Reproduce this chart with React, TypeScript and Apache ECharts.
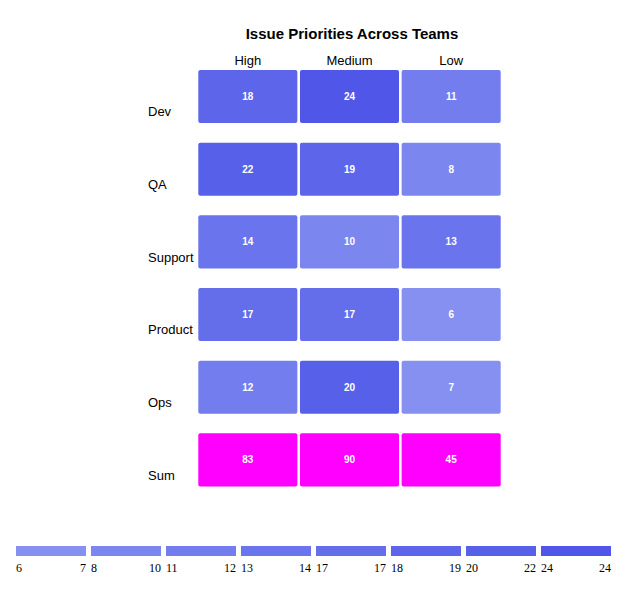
import React, { useEffect, useRef } from "react";
import * as echarts from "echarts";

const teams = ["Dev", "QA", "Support", "Product", "Ops", "Sum"];
const priorities = ["High", "Medium", "Low"];
const highValues = [18, 22, 14, 17, 12];
const mediumValues = [24, 19, 10, 17, 20];
const lowValues = [11, 8, 13, 6, 7];
const sumValues = [83, 90, 45];

const pieceMin = [6, 8, 11, 13, 17, 18, 20, 24];
const pieceMax = [7, 10, 12, 14, 17, 19, 22, 24];
const pieceColors = [
  "#8690f0",
  "#7c86ef",
  "#737dee",
  "#6a74ec",
  "#646eeb",
  "#5d66ea",
  "#5760e9",
  "#5057e8",
];
const sumColor = "#ff00ff";

const FONT = "'Liberation Sans', Arial, Helvetica, sans-serif";

function colorFor(v: number): string {
  for (let i = 0; i < pieceMin.length; i++) {
    if (v >= pieceMin[i] && v <= pieceMax[i]) return pieceColors[i];
  }
  let best = 0;
  let bd = Infinity;
  for (let i = 0; i < pieceMin.length; i++) {
    const d = Math.min(Math.abs(v - pieceMin[i]), Math.abs(v - pieceMax[i]));
    if (d < bd) {
      bd = d;
      best = i;
    }
  }
  return pieceColors[best];
}

export default function App() {
  const ref = useRef<HTMLDivElement>(null);

  useEffect(() => {
    if (!ref.current) return;
    const chart = echarts.init(ref.current, undefined, { renderer: "svg" });

    const columns = [highValues, mediumValues, lowValues];
    const data: any[] = [];
    for (let i = 0; i < 5; i++) {
      for (let j = 0; j < 3; j++) {
        data.push([j, i, columns[j][i], 0]);
      }
    }
    for (let j = 0; j < 3; j++) data.push([j, 5, sumValues[j], 1]);

    const legendGraphics: any[] = [];
    const lx0 = 16;
    const lw = 70;
    const lpitch = 75;
    for (let i = 0; i < pieceMin.length; i++) {
      const x = lx0 + i * lpitch;
      legendGraphics.push({
        type: "rect",
        shape: { x, y: 546, width: lw, height: 10 },
        style: { fill: pieceColors[i] },
        silent: true,
      });
      legendGraphics.push({
        type: "text",
        style: {
          text: String(pieceMin[i]),
          x,
          y: 568,
          align: "left",
          verticalAlign: "middle",
          fill: "#000",
          font: "12px 'Liberation Serif', 'Times New Roman', serif",
        },
        silent: true,
      });
      legendGraphics.push({
        type: "text",
        style: {
          text: String(pieceMax[i]),
          x: x + lw,
          y: 568,
          align: "right",
          verticalAlign: "middle",
          fill: "#000",
          font: "12px 'Liberation Serif', 'Times New Roman', serif",
        },
        silent: true,
      });
    }

    chart.setOption({
      animation: false,
      title: {
        text: "Issue Priorities Across Teams",
        left: 347,
        top: 21,
        textAlign: "center",
        textStyle: { fontFamily: FONT, fontSize: 15, fontWeight: "bold", color: "#000" },
      },
      grid: { left: 197, right: 135, top: 70, bottom: 104, containLabel: false },
      xAxis: {
        type: "category",
        position: "top",
        data: priorities,
        axisLine: { show: false },
        axisTick: { show: false },
        splitLine: { show: false },
        axisLabel: { margin: 3, fontFamily: FONT, fontSize: 13, color: "#000" },
      },
      yAxis: {
        type: "category",
        inverse: true,
        data: teams,
        axisLine: { show: false },
        axisTick: { show: false },
        splitLine: { show: false },
        axisLabel: {
          margin: 49,
          align: "left",
          verticalAlign: "top",
          lineHeight: 11,
          fontFamily: FONT,
          fontSize: 13,
          color: "#000",
        },
      },
      series: [
        {
          type: "custom",
          data,
          renderItem: (params: any, api: any) => {
            const x = api.value(0);
            const y = api.value(1);
            const v = api.value(2);
            const isSum = api.value(3) === 1;
            const c = api.coord([x, y]);
            const s = api.size([1, 1]);
            const w = s[0];
            const h = s[1];
            const ch = h * 0.73;
            const top = c[1] - h / 2;
            return {
              type: "group",
              children: [
                {
                  type: "rect",
                  shape: { x: c[0] - w / 2 + 1.3, y: top, width: w - 2.6, height: ch, r: 2 },
                  style: { fill: isSum ? sumColor : colorFor(v) },
                },
                {
                  type: "text",
                  style: {
                    text: String(v),
                    x: c[0],
                    y: top + ch / 2,
                    align: "center",
                    verticalAlign: "middle",
                    fill: "#fff",
                    font: "bold 10px " + FONT,
                  },
                },
              ],
            };
          },
        },
      ],
      graphic: legendGraphics,
    });

    return () => chart.dispose();
  }, []);

  return (
    <div
      ref={ref}
      style={{ position: "fixed", left: 0, top: 0, width: 637, height: 610, background: "#fff" }}
    />
  );
}
